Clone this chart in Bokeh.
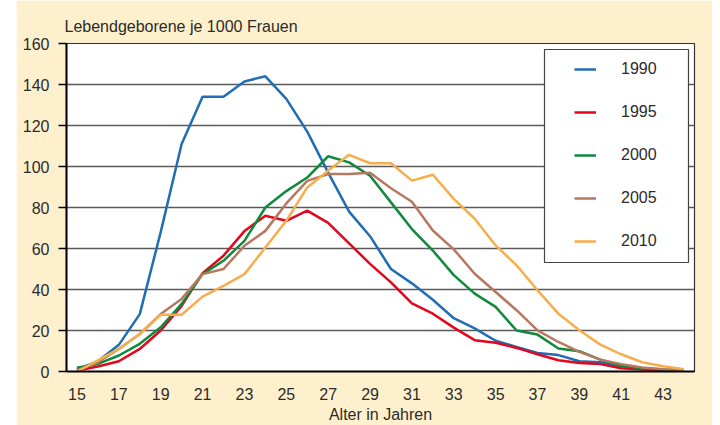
from bokeh.plotting import figure
from bokeh.layouts import row
from bokeh.models import Range1d, FixedTicker, Legend, LegendItem, BoxAnnotation, ColumnDataSource, Spacer
from bokeh.embed import file_html
from bokeh.resources import INLINE

# ---- data ----
ages = list(range(15, 45))
y1990 = [1, 5, 13, 28, 68, 111, 134, 134, 141.5, 144, 133, 117, 97, 78, 66, 50, 43, 35, 26, 21,
         15, 12, 9, 8, 5, 4.5, 2.5, 1.5, 0.7, 0.2]
y1995 = [0.5, 2.4, 5, 11, 20, 32, 48, 56.5, 68.5, 76, 73.5, 78.5, 72.5, 62.5, 52.5, 43.5, 33.2, 28.2, 21.4, 15.3,
         14, 11.5, 8.4, 5.5, 4.2, 3.6, 1.6, 1.0, 0.6, 0.3]
y2000 = [1.8, 3.7, 7.8, 13.5, 21.6, 33, 47.5, 54, 63.7, 80, 88, 94.6, 105, 102, 95.5, 82.5, 69.5, 59, 47, 38,
         31.5, 20, 18, 11.2, 9.9, 5.8, 2.8, 1.6, 1.0, 0.6]
y2005 = [0.5, 4.5, 11, 18.3, 28, 35.4, 47.5, 50, 61.3, 68.6, 82, 93, 96.3, 96.3, 97, 89.4, 82.8, 68.8, 59.6, 47.7,
         38.8, 29.9, 20.1, 14.4, 9.6, 5.8, 3.6, 1.9, 1.1, 0.6]
y2010 = [0, 5.4, 11, 18.3, 27.7, 27.7, 36.5, 41.8, 47.5, 60.5, 73.5, 89.8, 98, 105.7, 101.6, 101.6, 93.1, 96, 84.2, 74.5,
         61.5, 51.8, 39.6, 28.2, 20.1, 13.1, 8.4, 4.5, 2.6, 1.1]
series_names = ["1990", "1995", "2000", "2005", "2010"]
series_values = [y1990, y1995, y2000, y2005, y2010]
x_ticks = list(range(15, 44, 2))
y_ticks = list(range(0, 161, 20))

colors = ["#1f6db5", "#e3061c", "#0f8a3c", "#b8785f", "#f7ad4b"]
BEIGE = "#fef0cd"
TXT = "#2b2b2b"
FONT = "Liberation Sans"
FS = "16px"

p = figure(width=696, height=425, x_range=Range1d(14.5, 44.5), y_range=Range1d(0, 160),
           output_backend="svg", toolbar_location=None,
           min_border_left=50, min_border_right=18, min_border_top=43, min_border_bottom=54,
           background_fill_color="white", border_fill_color=BEIGE,
           outline_line_color="#333333", outline_line_width=1.2)

p.title.text = "Lebendgeborene je 1000 Frauen"
p.title.text_font = FONT
p.title.text_font_size = FS
p.title.text_font_style = "normal"
p.title.text_color = TXT
p.title.align = "left"
p.title.offset = -2
p.title.standoff = 17

# legend frame (drawn first so legend entries are on top)
box = BoxAnnotation(left=478, right=622, bottom=109, top=322,
                    left_units="screen", right_units="screen", bottom_units="screen", top_units="screen",
                    fill_color="white", fill_alpha=1.0, line_color="#444444", line_width=1.2, line_alpha=1.0)
p.add_layout(box)

items = []
for name, vals, c in zip(series_names, series_values, colors):
    src = ColumnDataSource(dict(x=ages, y=vals))
    r = p.line("x", "y", source=src, line_color=c, line_width=2.5)
    items.append(LegendItem(label=name, renderers=[r]))

legend = Legend(items=items, location=(508, 121), orientation="vertical",
                padding=0, margin=0, spacing=25, glyph_width=22, glyph_height=18,
                label_height=18, label_standoff=25,
                border_line_alpha=0, background_fill_alpha=0,
                label_text_font=FONT, label_text_font_size=FS, label_text_color=TXT)
p.add_layout(legend)

# axes
xa = p.xaxis[0]
xa.ticker = FixedTicker(ticks=x_ticks)
xa.major_tick_out = 0
xa.major_tick_in = 0
xa.minor_tick_out = 0
xa.minor_tick_in = 0
xa.axis_line_color = "black"
xa.axis_line_width = 2
xa.major_label_standoff = 16
xa.major_label_text_font = FONT
xa.major_label_text_font_size = FS
xa.major_label_text_color = TXT
xa.axis_label = "Alter in Jahren"
xa.axis_label_text_font = FONT
xa.axis_label_text_font_size = FS
xa.axis_label_text_font_style = "normal"
xa.axis_label_text_color = TXT
xa.axis_label_standoff = 3

ya = p.yaxis[0]
ya.ticker = FixedTicker(ticks=y_ticks)
ya.major_tick_out = 8
ya.major_tick_in = 0
ya.minor_tick_out = 0
ya.minor_tick_in = 0
ya.major_tick_line_color = "black"
ya.major_tick_line_width = 1.3
ya.axis_line_color = "black"
ya.axis_line_width = 2
ya.major_label_standoff = 9
ya.major_label_text_font = FONT
ya.major_label_text_font_size = FS
ya.major_label_text_color = TXT

p.xgrid.visible = False
p.ygrid.grid_line_color = "#5a5a5a"
p.ygrid.grid_line_width = 1.3
p.ygrid.ticker = FixedTicker(ticks=y_ticks)

layout = row(Spacer(width=16, height=425), p)
open("out.html", "w").write(file_html(layout, INLINE))
